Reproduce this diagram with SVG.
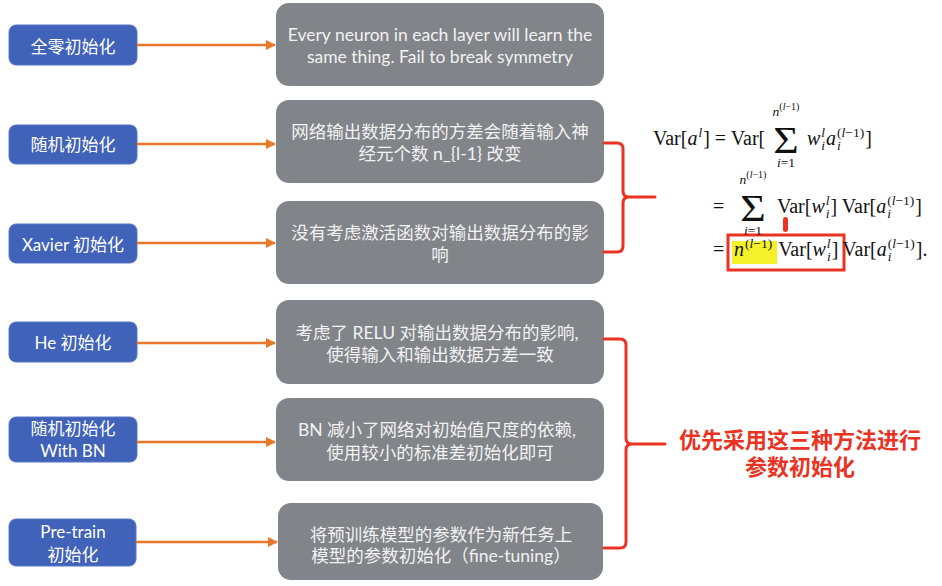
<svg xmlns="http://www.w3.org/2000/svg" width="942" height="586" viewBox="0 0 942 586">
  <defs>
    <marker id="arrow" viewBox="0 0 10 10" refX="9" refY="5" markerWidth="4" markerHeight="4" orient="auto" markerUnits="strokeWidth">
      <path d="M0,0 L10,5 L0,10 z" fill="#e8792b"/>
    </marker>
    <style>
      .method { fill: #4062b9; stroke: #5877c8; stroke-width: 1; }
      .desc { fill: #818489; }
      .mtext { font-family: "Lato", "Noto Sans CJK SC", sans-serif; font-size: 17px; fill: #ffffff; text-anchor: middle; }
      .dtext { font-family: "Lato", "Noto Sans CJK SC", sans-serif; font-size: 17.5px; fill: #f2f2f2; text-anchor: middle; }
      .arrow { stroke: #e8792b; stroke-width: 2.5; fill: none; marker-end: url(#arrow); }
      .brace { stroke: #ea3323; stroke-width: 3; fill: none; stroke-linecap: round; stroke-linejoin: round; }
      .note { font-family: "Noto Sans CJK SC", sans-serif; font-size: 22px; font-weight: bold; fill: #ea3323; text-anchor: middle; }
      .math { font-family: "Liberation Serif", "DejaVu Serif", serif; font-size: 20px; fill: #111111; }
      .it { font-style: italic; }
      .sm { font-size: 13.5px; }
      .xs { font-size: 10px; }
      .sum { font-family: "Liberation Serif", "DejaVu Serif", serif; font-size: 38px; fill: #111111; text-anchor: middle; }
    </style>
  </defs>
  <rect width="942" height="586" fill="#ffffff"/>

  <!-- initialisation methods -->
  <g id="m-zero">
    <rect class="method" x="9" y="25" width="128" height="40" rx="7"/>
    <text class="mtext" x="73" y="53">全零初始化</text>
  </g>
  <g id="m-random">
    <rect class="method" x="9" y="125" width="128" height="39" rx="7"/>
    <text class="mtext" x="73" y="151">随机初始化</text>
  </g>
  <g id="m-xavier">
    <rect class="method" x="9" y="224" width="128" height="39" rx="7"/>
    <text class="mtext" x="73" y="251">Xavier 初始化</text>
  </g>
  <g id="m-he">
    <rect class="method" x="9" y="322" width="128" height="40" rx="7"/>
    <text class="mtext" x="73" y="349">He 初始化</text>
  </g>
  <g id="m-bn">
    <rect class="method" x="9" y="417" width="128" height="45" rx="7"/>
    <text class="mtext" x="73" y="435">随机初始化</text>
    <text class="mtext" x="73" y="457">With BN</text>
  </g>
  <g id="m-pretrain">
    <rect class="method" x="9" y="519" width="127" height="47" rx="7"/>
    <text class="mtext" x="73" y="538">Pre-train</text>
    <text class="mtext" x="73" y="561">初始化</text>
  </g>

  <!-- descriptions -->
  <g id="d-zero">
    <rect class="desc" x="276" y="3" width="328" height="83" rx="13"/>
    <text class="dtext" x="440" y="41">Every neuron in each layer will learn the</text>
    <text class="dtext" x="440" y="63">same thing. Fail to break symmetry</text>
  </g>
  <g id="d-random">
    <rect class="desc" x="276" y="100" width="328" height="83" rx="13"/>
    <text class="dtext" x="440" y="138">网络输出数据分布的方差会随着输入神</text>
    <text class="dtext" x="440" y="160">经元个数 n_{l-1} 改变</text>
  </g>
  <g id="d-xavier">
    <rect class="desc" x="276" y="201" width="328" height="83" rx="13"/>
    <text class="dtext" x="440" y="239">没有考虑激活函数对输出数据分布的影</text>
    <text class="dtext" x="440" y="261">响</text>
  </g>
  <g id="d-he">
    <rect class="desc" x="276" y="300" width="328" height="84" rx="13"/>
    <text class="dtext" x="437" y="339">考虑了 RELU 对输出数据分布的影响,</text>
    <text class="dtext" x="440" y="361">使得输入和输出数据方差一致</text>
  </g>
  <g id="d-bn">
    <rect class="desc" x="276" y="398" width="328" height="83" rx="13"/>
    <text class="dtext" x="437" y="436">BN 减小了网络对初始值尺度的依赖,</text>
    <text class="dtext" x="440" y="459">使用较小的标准差初始化即可</text>
  </g>
  <g id="d-pretrain">
    <rect class="desc" x="278" y="503" width="325" height="77" rx="13"/>
    <text class="dtext" x="441" y="541">将预训练模型的参数作为新任务上</text>
    <text class="dtext" x="441" y="562">模型的参数初始化（fine-tuning）</text>
  </g>

  <!-- connectors -->
  <g id="connectors">
    <line class="arrow" x1="137" y1="45" x2="275" y2="45"/>
    <line class="arrow" x1="137" y1="144" x2="275" y2="144"/>
    <line class="arrow" x1="137" y1="243" x2="275" y2="243"/>
    <line class="arrow" x1="137" y1="343" x2="275" y2="343"/>
    <line class="arrow" x1="137" y1="442" x2="275" y2="442"/>
    <line class="arrow" x1="136" y1="542" x2="277" y2="542"/>
    <path class="brace" d="M604,143 H617 Q623,143 623,149 V191 Q623,197 629,197 H655 M629,197 Q623,197 623,203 V246 Q623,252 617,252 H604"/>
    <path class="brace" d="M604,339 H620 Q626,339 626,345 V438 Q626,444 632,444 H665 M632,444 Q626,444 626,450 V542 Q626,548 620,548 H604"/>
  </g>

  <!-- note -->
  <g id="note">
    <text class="note" x="800" y="448">优先采用这三种方法进行</text>
    <text class="note" x="800" y="475">参数初始化</text>
  </g>

  <!-- variance derivation -->
  <g id="formula">
    <rect x="732" y="241" width="45" height="23" fill="#f4f12a"/>
    <rect x="728" y="235" width="116" height="35" fill="none" stroke="#ea3323" stroke-width="3"/>
    <rect x="783" y="217" width="5" height="15" rx="2.5" fill="#ea3323"/>

    <!-- line 1: Var[a^l] = Var[ sum w a ] -->
    <text class="math" x="653" y="145">Var[<tspan class="it">a</tspan><tspan class="it sm" dx="1" dy="-8">l</tspan><tspan dx="1" dy="8">] = Var[</tspan></text>
    <text class="sum" transform="translate(786,153) scale(1.15,1)">Σ</text>
    <text class="math" x="786" y="116" text-anchor="middle"><tspan class="it sm">n</tspan><tspan class="xs" dy="-6">(<tspan class="it">l</tspan>−1)</tspan></text>
    <text class="math sm" x="786" y="167" text-anchor="middle"><tspan class="it">i</tspan>=1</text>
    <text class="math" x="807" y="145"><tspan class="it">w</tspan><tspan class="it sm" dx="1" dy="5">i</tspan><tspan class="it sm" dx="-3.8" dy="-13">l</tspan><tspan class="it" dx="1" dy="8">a</tspan><tspan class="it sm" dx="1" dy="5">i</tspan><tspan class="sm" dx="-3.8" dy="-13">(<tspan class="it">l</tspan>−1)</tspan><tspan dx="1" dy="8">]</tspan></text>

    <!-- line 2 -->
    <text class="math" x="713" y="213">=</text>
    <text class="sum" transform="translate(753,221) scale(1.15,1)">Σ</text>
    <text class="math" x="753" y="184" text-anchor="middle"><tspan class="it sm">n</tspan><tspan class="xs" dy="-6">(<tspan class="it">l</tspan>−1)</tspan></text>
    <text class="math sm" x="753" y="235" text-anchor="middle"><tspan class="it">i</tspan>=1</text>
    <text class="math" x="777" y="213">Var[<tspan class="it">w</tspan><tspan class="it sm" dx="1" dy="5">i</tspan><tspan class="it sm" dx="-3.8" dy="-13">l</tspan><tspan dx="1" dy="8">] Var[</tspan><tspan class="it">a</tspan><tspan class="it sm" dx="1" dy="5">i</tspan><tspan class="sm" dx="-3.8" dy="-13">(<tspan class="it">l</tspan>−1)</tspan><tspan dx="1" dy="8">]</tspan></text>

    <!-- line 3 -->
    <text class="math" x="713" y="256">=</text>
    <text class="math" x="734" y="256"><tspan class="it">n</tspan><tspan class="sm" dx="1" dy="-8">(<tspan class="it">l</tspan>−1)</tspan><tspan dx="6" dy="8">Var[</tspan><tspan class="it">w</tspan><tspan class="it sm" dx="1" dy="5">i</tspan><tspan class="it sm" dx="-3.8" dy="-13">l</tspan><tspan dx="1" dy="8">]</tspan><tspan dx="4">Var[</tspan><tspan class="it">a</tspan><tspan class="it sm" dx="1" dy="5">i</tspan><tspan class="sm" dx="-3.8" dy="-13">(<tspan class="it">l</tspan>−1)</tspan><tspan dx="1" dy="8">].</tspan></text>
  </g>
</svg>
